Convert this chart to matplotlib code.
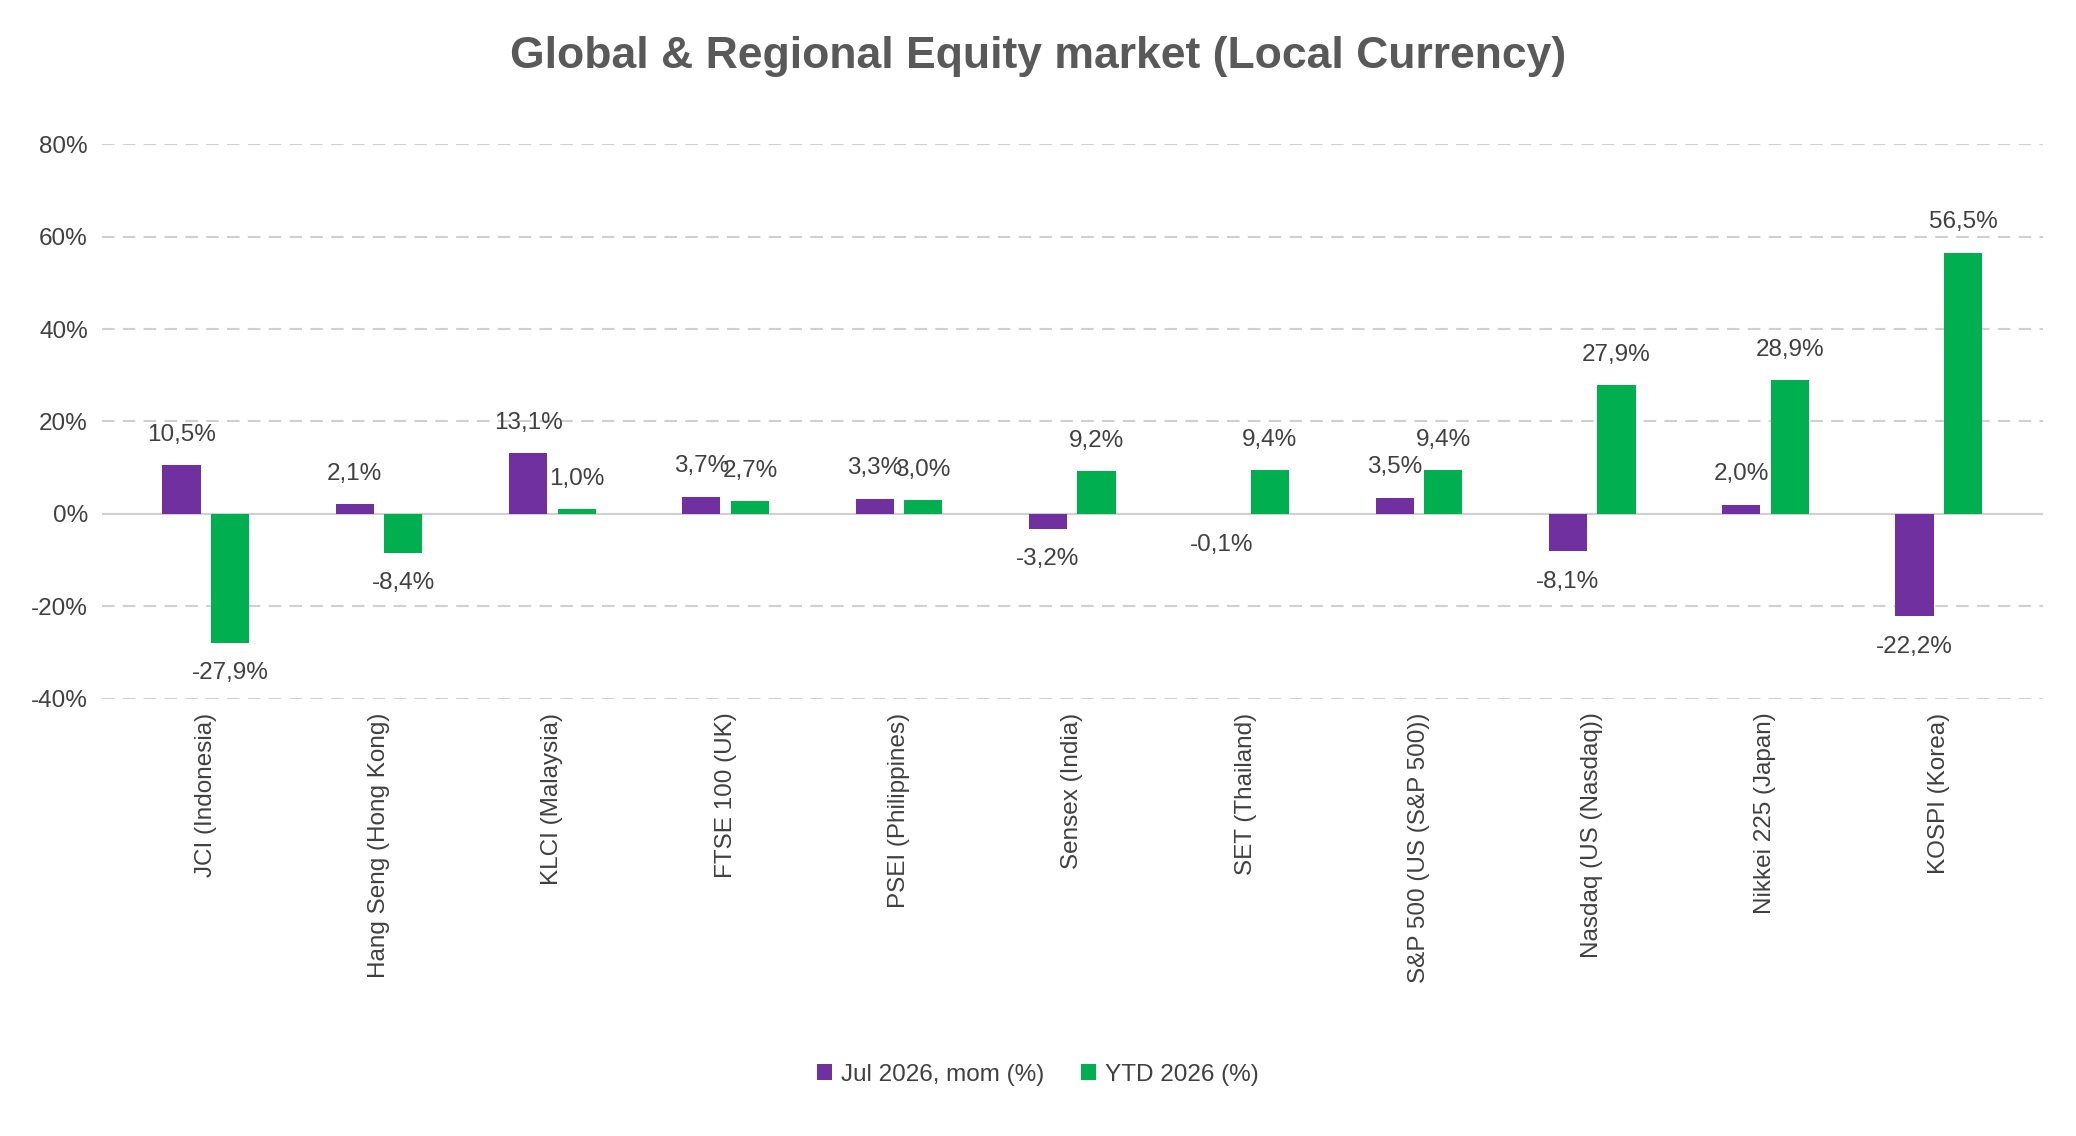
import numpy as np
import matplotlib.pyplot as plt

plt.rcParams['font.family'] = ['Liberation Sans', 'DejaVu Sans']

categories = ["JCI (Indonesia)", "Hang Seng (Hong Kong)", "KLCI (Malaysia)", "FTSE 100 (UK)",
              "PSEI (Philippines)", "Sensex (India)", "SET (Thailand)", "S&P 500 (US (S&P 500))",
              "Nasdaq (US (Nasdaq))", "Nikkei 225 (Japan)", "KOSPI (Korea)"]
mom = [10.5, 2.1, 13.1, 3.7, 3.3, -3.2, -0.1, 3.5, -8.1, 2.0, -22.2]
ytd = [-27.9, -8.4, 1.0, 2.7, 3.0, 9.2, 9.4, 9.4, 27.9, 28.9, 56.5]
yticks = [-40, -20, 0, 20, 40, 60, 80]

PURPLE = "#7030A0"
GREEN = "#00B050"
TXT = "#404040"

fig = plt.figure(figsize=(20.76, 11.36), dpi=100)
ax = fig.add_axes([0.049, 0.385, 0.935, 0.488])

x = np.arange(len(categories))
w = 0.22
off = 0.14
b1 = ax.bar(x - off, mom, w, color=PURPLE, label="Jul 2026, mom (%)", zorder=3)
b2 = ax.bar(x + off, ytd, w, color=GREEN, label="YTD 2026 (%)", zorder=3)

def fmt(v):
    return f"{v:.1f}%".replace(".", ",")

for bars, vals in ((b1, mom), (b2, ytd)):
    for b, v in zip(bars, vals):
        dy = 14 if v >= 0 else -14
        ax.annotate(fmt(v), (b.get_x() + b.get_width() / 2, v), xytext=(0, dy),
                    textcoords="offset points", ha="center",
                    va="bottom" if v >= 0 else "top", fontsize=17.5, color=TXT, zorder=4)

ax.set_ylim(-40, 80)
ax.set_xlim(-0.6, len(categories) - 0.4)
ax.set_yticks(yticks)
ax.set_yticklabels([f"{t}%" for t in yticks], fontsize=17.5, color=TXT)
ax.set_xticks(x)
ax.set_xticklabels(categories, rotation=90, fontsize=17.5, color=TXT)
ax.tick_params(length=0, pad=10)
for t in yticks:
    if t != 0:
        ax.axhline(t, color="#D0D0D0", linestyle=(0, (6, 4)), linewidth=1.5, zorder=1)
ax.axhline(0, color="#D0D0D0", linewidth=1.5, zorder=2)
for s in ax.spines.values():
    s.set_visible(False)

fig.suptitle("Global & Regional Equity market (Local Currency)", y=0.968,
             fontsize=32, fontweight="bold", color="#595959")
fig.legend(loc="center", bbox_to_anchor=(0.5, 0.054), ncol=2, frameon=False,
           fontsize=17.5, handlelength=0.6, handleheight=0.6, handletextpad=0.4,
           columnspacing=1.5, labelcolor=TXT)

fig.savefig("out.png", dpi=100)
